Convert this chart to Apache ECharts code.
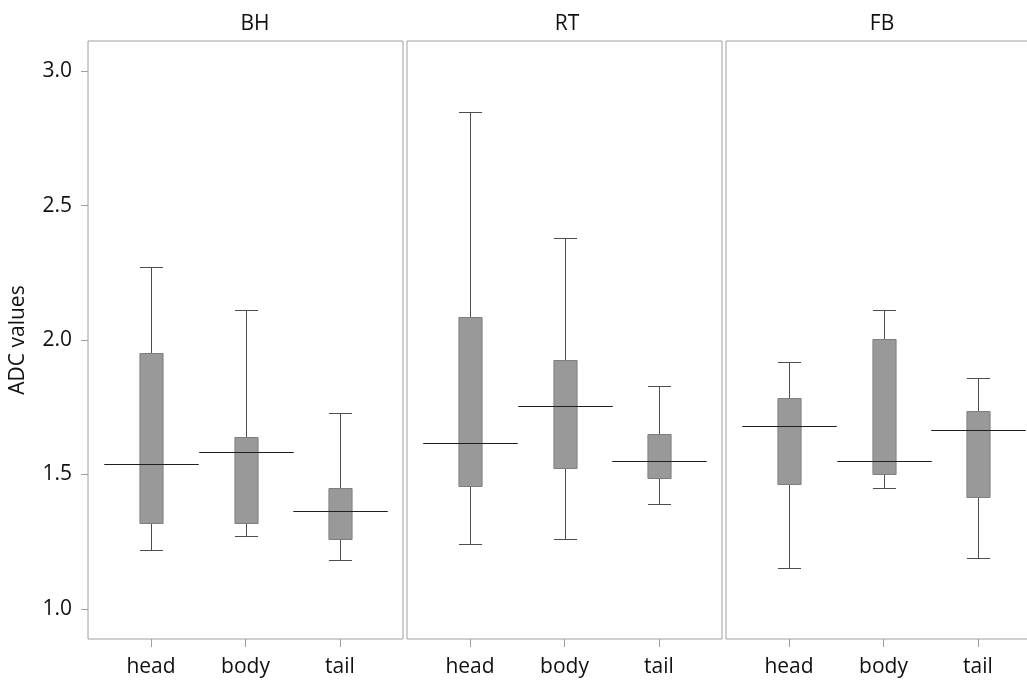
<!DOCTYPE html>
<html>
<head>
<meta charset="utf-8">
<script src="https://cdn.jsdelivr.net/npm/echarts@6/dist/echarts.min.js"></script>
<style>
html,body{margin:0;padding:0;background:#fff;}
#chart{width:1027px;height:680px;}
</style>
</head>
<body>
<div id="chart"></div>
<script>
// ---- data ----
const panels = ['BH', 'RT', 'FB'];
const categories = ['head', 'body', 'tail'];
const yTicks = [1.0, 1.5, 2.0, 2.5, 3.0];
// each row: [min, Q1, median, Q3, max] per category (head, body, tail)
const BH = [
  [1.22, 1.32, 1.54, 1.95, 2.27],
  [1.27, 1.32, 1.585, 1.64, 2.11],
  [1.18, 1.26, 1.365, 1.45, 1.73]
];
const RT = [
  [1.24, 1.455, 1.615, 2.085, 2.85],
  [1.26, 1.525, 1.755, 1.925, 2.38],
  [1.39, 1.485, 1.55, 1.65, 1.83]
];
const FB = [
  [1.15, 1.465, 1.68, 1.785, 1.92],
  [1.45, 1.50, 1.55, 2.005, 2.11],
  [1.19, 1.415, 1.665, 1.735, 1.86]
];
const panelData = [BH, RT, FB];

// ---- layout ----
const FONT = "'Segoe UI', 'Open Sans', sans-serif";
const gridLefts = [88, 407, 726];
const gridW = 315;
const gridTop = 41, gridH = 598;
const titleCenters = [255, 567, 882];
const TXT = '#111111';
const FRAME = '#a0a0a0';

const chart = echarts.init(document.getElementById('chart'), null, {renderer: 'canvas'});

function renderBox(params, api) {
  const x = api.value(0);
  const lo = api.value(1), q1 = api.value(2), med = api.value(3), q3 = api.value(4), hi = api.value(5);
  const boxW = api.size([0.245, 0])[0];
  const medW = api.size([1.0, 0])[0];
  const pLo = api.coord([x, lo]);
  const pQ1 = api.coord([x, q1]);
  const pMed = api.coord([x, med]);
  const pQ3 = api.coord([x, q3]);
  const pHi = api.coord([x, hi]);
  const cx = Math.round(pLo[0]) + 0.5;
  const r = v => Math.round(v) + 0.5;
  const whisk = {stroke: '#4d4d4d', lineWidth: 1};
  return {
    type: 'group',
    children: [
      {type: 'line', shape: {x1: cx, y1: r(pHi[1]), x2: cx, y2: r(pQ3[1])}, style: whisk},
      {type: 'line', shape: {x1: cx, y1: r(pQ1[1]), x2: cx, y2: r(pLo[1])}, style: whisk},
      {type: 'line', shape: {x1: cx - boxW / 2, y1: r(pHi[1]), x2: cx + boxW / 2, y2: r(pHi[1])}, style: whisk},
      {type: 'line', shape: {x1: cx - boxW / 2, y1: r(pLo[1]), x2: cx + boxW / 2, y2: r(pLo[1])}, style: whisk},
      {type: 'rect', shape: {x: cx - boxW / 2, y: r(pQ3[1]), width: boxW, height: r(pQ1[1]) - r(pQ3[1])},
        style: {fill: '#999999', stroke: '#7f7f7f', lineWidth: 1}},
      {type: 'line', shape: {x1: cx - medW / 2, y1: r(pMed[1]), x2: cx + medW / 2, y2: r(pMed[1])},
        style: {stroke: '#1f1f1f', lineWidth: 1}}
    ]
  };
}

const grids = [], xAxes = [], yAxes = [], series = [], titles = [];
panels.forEach((name, i) => {
  grids.push({left: gridLefts[i], top: gridTop, width: gridW, height: gridH,
    outerBoundsMode: 'none', containLabel: false,
    show: true, borderColor: FRAME, borderWidth: 1, backgroundColor: '#fff'});
  xAxes.push({
    type: 'value', gridIndex: i, min: 1 / 3, max: 11 / 3,
    axisLine: {show: false},
    splitLine: {show: false},
    axisTick: {show: true, inside: false, length: 8, lineStyle: {color: FRAME}, customValues: [1, 2, 3]},
    axisLabel: {show: true, margin: 18, fontSize: 21, fontFamily: FONT, color: TXT,
      customValues: [1, 2, 3], formatter: v => categories[Math.round(v) - 1]}
  });
  yAxes.push({
    type: 'value', gridIndex: i, min: 0.8875, max: 3.1125,
    axisLine: {show: false},
    splitLine: {show: false},
    axisTick: {show: i === 0, inside: false, length: 7, lineStyle: {color: FRAME}, customValues: yTicks},
    axisLabel: {show: i === 0, margin: 16, fontSize: 21, fontFamily: FONT, color: TXT,
      customValues: yTicks, formatter: v => v.toFixed(1)},
    name: i === 0 ? 'ADC values' : '',
    nameLocation: 'middle', nameRotate: 90, nameGap: 59,
    nameTextStyle: {fontSize: 21, fontFamily: FONT, color: TXT}
  });
  series.push({
    type: 'custom', xAxisIndex: i, yAxisIndex: i,
    renderItem: renderBox,
    encode: {x: 0, y: [1, 2, 3, 4, 5]},
    data: panelData[i].map((row, k) => [k + 1].concat(row)),
    silent: true, clip: false
  });
  titles.push({text: name, left: titleCenters[i], top: 14, textAlign: 'center', padding: 0,
    textStyle: {fontSize: 21, fontWeight: 'normal', fontFamily: FONT, color: TXT}});
});

chart.setOption({
  animation: false,
  backgroundColor: '#fff',
  title: titles,
  grid: grids,
  xAxis: xAxes,
  yAxis: yAxes,
  series: series
});
</script>
</body>
</html>
